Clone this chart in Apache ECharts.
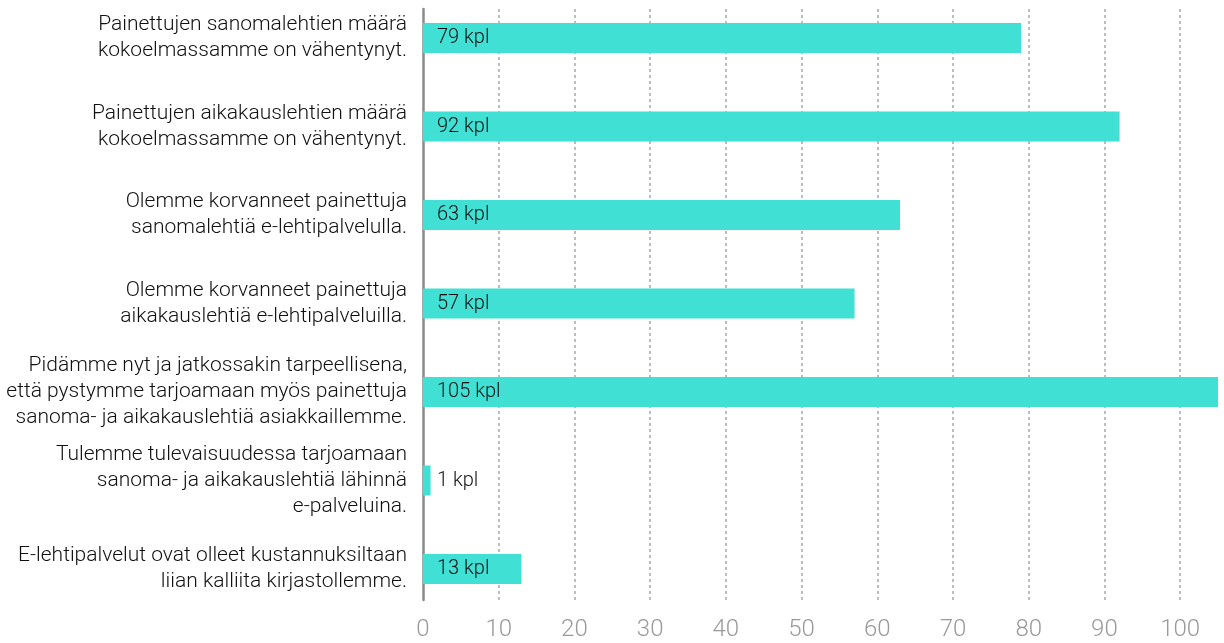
<!DOCTYPE html>
<html>
<head>
<meta charset="utf-8">
<script src="https://cdn.jsdelivr.net/npm/echarts@6/dist/echarts.min.js"></script>
<style>
html,body{margin:0;padding:0;background:#fff;}
#chart{width:1224px;height:643px;}
</style>
</head>
<body>
<div id="chart"></div>
<script>
const categories = [
  "Painettujen sanomalehtien määrä\nkokoelmassamme on vähentynyt.",
  "Painettujen aikakauslehtien määrä\nkokoelmassamme on vähentynyt.",
  "Olemme korvanneet painettuja\nsanomalehtiä e-lehtipalvelulla.",
  "Olemme korvanneet painettuja\naikakauslehtiä e-lehtipalveluilla.",
  "Pidämme nyt ja jatkossakin tarpeellisena,\nettä pystymme tarjoamaan myös painettuja\nsanoma- ja aikakauslehtiä asiakkaillemme.",
  "Tulemme tulevaisuudessa tarjoamaan\nsanoma- ja aikakauslehtiä lähinnä\ne-palveluina.",
  "E-lehtipalvelut ovat olleet kustannuksiltaan\nliian kalliita kirjastollemme."
];
const values = [79, 92, 63, 57, 105, 1, 13];
const unit = "kpl";
const xMin = 0, xMax = 105, xInterval = 10;

const FONT = "Roboto";
const chart = echarts.init(document.getElementById('chart'), null, {renderer: 'canvas'});
chart.setOption({
  animation: false,
  backgroundColor: '#fff',
  grid: [
    {left: 423, right: 6, top: 9, bottom: 43, containLabel: false},
    {left: 423, right: 6, top: 38, bottom: 74, containLabel: false}
  ],
  xAxis: [
    {
      gridIndex: 0, type: 'value', min: xMin, max: xMax, interval: xInterval,
      axisLine: {show: false}, axisTick: {show: false},
      axisLabel: {show: true, showMaxLabel: false, color: '#9a9a9a', fontFamily: FONT, fontWeight: 300, fontSize: 24, margin: 18},
      splitLine: {show: true, showMinLine: false, showMaxLine: false, lineStyle: {color: '#a8a8a8', width: 1.5, type: [3, 3]}}
    },
    {
      gridIndex: 1, type: 'value', min: xMin, max: xMax, interval: xInterval, show: false
    }
  ],
  yAxis: [
    {
      gridIndex: 0, type: 'value', min: 0, max: 1,
      axisLine: {show: true, onZero: false, lineStyle: {color: '#8a8a8a', width: 2.5}},
      axisTick: {show: false}, axisLabel: {show: false}, splitLine: {show: false}
    },
    {
      gridIndex: 1, type: 'category', data: categories, inverse: true, boundaryGap: false,
      axisLine: {show: false}, axisTick: {show: false}, splitLine: {show: false},
      axisLabel: {color: '#111', fontFamily: FONT, fontWeight: 300, fontSize: 21, lineHeight: 26, margin: 16, align: 'right'}
    }
  ],
  series: [{
    type: 'bar', xAxisIndex: 1, yAxisIndex: 1,
    data: values, barWidth: 30,
    itemStyle: {color: '#40E0D4'},
    label: {
      show: true, position: 'insideLeft', distance: 14,
      formatter: p => p.value + ' ' + unit,
      color: '#111', fontFamily: FONT, fontWeight: 300, fontSize: 20
    }
  }]
});
</script>
</body>
</html>
